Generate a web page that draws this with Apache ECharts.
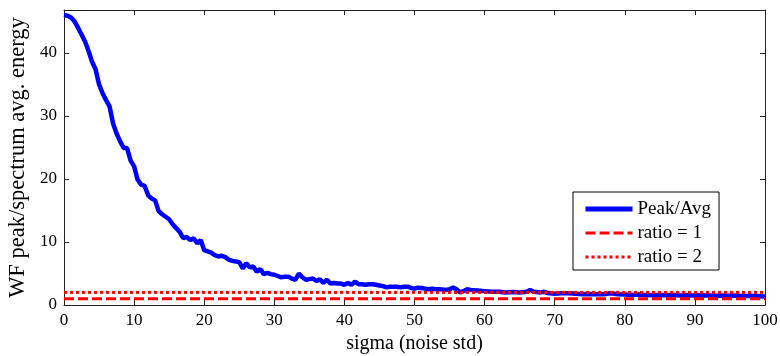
<!DOCTYPE html>
<html>
<head>
<meta charset="utf-8">
<script src="https://cdn.jsdelivr.net/npm/echarts@6/dist/echarts.min.js"></script>
<style>html,body{margin:0;padding:0;background:#fff}#c{width:780px;height:356px}</style>
</head>
<body>
<div id="c"></div>
<script>
var sigma = [0,0.5,1,1.5,2,2.5,3,3.5,4,4.5,5,5.5,6,6.5,7,7.5,8,8.5,9,9.5,10,10.5,11,11.5,12,12.5,13,13.5,14,14.5,15,15.5,16,16.5,17,17.5,18,18.5,19,19.5,20,20.5,21,21.5,22,22.5,23,23.5,24,24.5,25,25.5,26,26.5,27,27.5,28,28.5,29,29.5,30,30.5,31,31.5,32,32.5,33,33.5,34,34.5,35,35.5,36,36.5,37,37.5,38,38.5,39,39.5,40,40.5,41,41.5,42,42.5,43,43.5,44,44.5,45,45.5,46,46.5,47,47.5,48,48.5,49,49.5,50,50.5,51,51.5,52,52.5,53,53.5,54,54.5,55,55.5,56,56.5,57,57.5,58,58.5,59,60,61,62,63,64,65,66,66.5,67,68,68.5,69,70,71,72,73,74,75,76,77,78,79,80,81,82,83,84,85,86,87,88,89,90,91,92,93,94,95,96,97,98,99,100];
var peakAvg = [46.0,45.9,45.6,45.0,44.0,42.9,41.8,40.3,38.6,37.4,35.0,33.6,32.5,31.5,28.8,27.2,26.0,24.9,24.9,22.9,22.0,19.9,19.1,18.9,17.4,16.9,16.6,14.9,14.4,14.0,13.6,12.8,12.2,11.6,10.6,10.8,10.3,10.6,9.8,10.3,8.7,8.5,8.3,7.9,7.7,7.8,7.6,7.2,7.0,6.9,6.8,5.8,6.6,6.0,6.1,5.3,5.7,4.9,5.1,4.9,4.8,4.6,4.4,4.5,4.5,4.2,4.0,5.0,4.4,4.0,4.1,4.2,3.8,4.1,3.5,4.0,3.4,3.5,3.4,3.4,3.2,3.5,3.2,3.7,3.3,3.3,3.2,3.3,3.3,3.2,3.1,3.0,2.8,2.9,2.9,2.9,2.8,2.9,2.9,2.7,2.6,2.75,2.7,2.6,2.5,2.6,2.5,2.5,2.45,2.4,2.5,2.75,2.5,2.0,2.2,2.5,2.4,2.35,2.3,2.2,2.1,2.1,2.0,2.05,2.0,2.1,2.4,2.1,2.0,2.1,1.9,1.8,1.85,1.85,1.8,1.7,1.75,1.7,1.7,1.85,1.7,1.65,1.6,1.65,1.6,1.55,1.6,1.55,1.6,1.5,1.55,1.5,1.55,1.5,1.45,1.5,1.45,1.5,1.4,1.45,1.4,1.35];
var ratio1 = [1, 1];
var ratio2 = [2, 2];
var refX = [0, 100];
var seriesNames = ['Peak/Avg', 'ratio = 1', 'ratio = 2'];
var xTitle = 'sigma (noise std)';
var yTitle = 'WF peak/spectrum avg. energy';

function pairs(xs, ys){ return xs.map(function(x,i){ return [x, ys[i]]; }); }

var font = 'Liberation Serif';
var axisCol = '#222';
var blue = '#0000ff', red = '#ff0000';
var dashPat = [10, 4], dotPat = [3, 3];
var chart = echarts.init(document.getElementById('c'), null, {renderer:'canvas'});
chart.setOption({
  animation: false,
  backgroundColor: '#fff',
  textStyle: {fontFamily: font},
  grid: {left: 64, right: 15, top: 10, bottom: 51, containLabel: false, outerBoundsMode: 'none'},
  xAxis: [{
    type: 'value', min: 0, max: 100, interval: 10,
    name: xTitle, nameLocation: 'middle', nameGap: 26,
    nameTextStyle: {fontFamily: font, fontSize: 20, color: '#000'},
    axisLine: {show: true, onZero: false, lineStyle: {color: axisCol, width: 1}},
    axisTick: {show: true, inside: true, length: 5, lineStyle: {color: axisCol}},
    axisLabel: {fontFamily: font, fontSize: 17, color: '#000', margin: 7},
    splitLine: {show: false}
  }, {
    type: 'value', min: 0, max: 100, interval: 10, position: 'top',
    axisLine: {show: true, onZero: false, lineStyle: {color: axisCol, width: 1}},
    axisTick: {show: true, inside: true, length: 5, lineStyle: {color: axisCol}},
    axisLabel: {show: false}, splitLine: {show: false}
  }],
  yAxis: [{
    type: 'value', min: 0, max: 46.8, interval: 10,
    name: yTitle, nameLocation: 'middle', nameGap: 31, nameRotate: 90,
    nameTextStyle: {fontFamily: font, fontSize: 22.5, color: '#000'},
    axisLine: {show: true, onZero: false, lineStyle: {color: axisCol, width: 1}},
    axisTick: {show: true, inside: true, length: 5, lineStyle: {color: axisCol}},
    axisLabel: {fontFamily: font, fontSize: 17, color: '#000', margin: 7, showMaxLabel: false},
    splitLine: {show: false}
  }, {
    type: 'value', min: 0, max: 46.8, interval: 10, position: 'right',
    axisLine: {show: true, onZero: false, lineStyle: {color: axisCol, width: 1}},
    axisTick: {show: true, inside: true, length: 5, lineStyle: {color: axisCol}},
    axisLabel: {show: false}, splitLine: {show: false}
  }],
  legend: {
    orient: 'vertical', left: 573, top: 192,
    data: [
      {name: seriesNames[0], lineStyle: {color: blue, width: 5}},
      {name: seriesNames[1], lineStyle: {color: red, width: 3, type: dashPat}},
      {name: seriesNames[2], lineStyle: {color: red, width: 3, type: dotPat}}
    ],
    itemWidth: 47, itemHeight: 14, itemGap: 4,
    itemStyle: {opacity: 0},
    padding: [7, 8, 3, 10],
    backgroundColor: '#fff', borderColor: '#000', borderWidth: 1,
    textStyle: {fontFamily: font, fontSize: 19, lineHeight: 20, color: '#000'}
  },
  series: [{
    name: seriesNames[1], type: 'line', data: pairs(refX, ratio1), symbol: 'none',
    lineStyle: {color: red, width: 3, type: dashPat}, itemStyle: {color: red}, z: 3
  }, {
    name: seriesNames[2], type: 'line', data: pairs(refX, ratio2), symbol: 'none',
    lineStyle: {color: red, width: 3, type: dotPat}, itemStyle: {color: red}, z: 3
  }, {
    name: seriesNames[0], type: 'line', data: pairs(sigma, peakAvg), symbol: 'none',
    lineStyle: {color: blue, width: 4.5}, itemStyle: {color: blue}, z: 2
  }]
});
</script>
</body>
</html>
